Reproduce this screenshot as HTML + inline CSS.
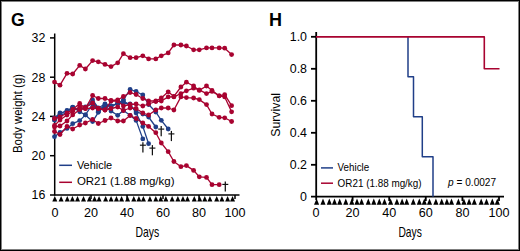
<!DOCTYPE html>
<html><head><meta charset="utf-8"><style>
html,body{margin:0;padding:0;background:#fff;}
#c{position:relative;width:520px;height:251px;overflow:hidden;background:#fff;}
#c svg{position:absolute;left:0;top:0;}
#b{position:absolute;left:0;top:0;width:518px;height:249px;border:1px solid #000;box-shadow:inset 0 0 0 1px rgba(0,0,0,0.5);}
</style></head><body><div id="c">
<svg width="520" height="251" viewBox="0 0 520 251">
<g stroke="#000" stroke-width="1.5" fill="none">
<line x1="54.7" y1="33.5" x2="54.7" y2="195.5"/>
<line x1="50" y1="194.9" x2="239.5" y2="194.9"/>
<line x1="50" y1="37.9" x2="54.7" y2="37.9"/>
<line x1="50" y1="77.2" x2="54.7" y2="77.2"/>
<line x1="50" y1="116.4" x2="54.7" y2="116.4"/>
<line x1="50" y1="155.7" x2="54.7" y2="155.7"/>
<line x1="91.0" y1="194.9" x2="91.0" y2="199"/>
<line x1="127.0" y1="194.9" x2="127.0" y2="199"/>
<line x1="163.0" y1="194.9" x2="163.0" y2="199"/>
<line x1="199.0" y1="194.9" x2="199.0" y2="199"/>
<line x1="235.0" y1="194.9" x2="235.0" y2="199"/>
</g>
<text x="45.3" y="42.3" font-family="Liberation Sans, sans-serif" font-size="12.4" text-anchor="end">32</text>
<text x="45.3" y="81.6" font-family="Liberation Sans, sans-serif" font-size="12.4" text-anchor="end">28</text>
<text x="45.3" y="120.8" font-family="Liberation Sans, sans-serif" font-size="12.4" text-anchor="end">24</text>
<text x="45.3" y="160.1" font-family="Liberation Sans, sans-serif" font-size="12.4" text-anchor="end">20</text>
<text x="45.3" y="199.3" font-family="Liberation Sans, sans-serif" font-size="12.4" text-anchor="end">16</text>
<text x="55.0" y="216.9" font-family="Liberation Sans, sans-serif" font-size="12.6" text-anchor="middle">0</text>
<text x="91.0" y="216.9" font-family="Liberation Sans, sans-serif" font-size="12.6" text-anchor="middle">20</text>
<text x="127.0" y="216.9" font-family="Liberation Sans, sans-serif" font-size="12.6" text-anchor="middle">40</text>
<text x="163.0" y="216.9" font-family="Liberation Sans, sans-serif" font-size="12.6" text-anchor="middle">60</text>
<text x="199.0" y="216.9" font-family="Liberation Sans, sans-serif" font-size="12.6" text-anchor="middle">80</text>
<text x="235.0" y="216.9" font-family="Liberation Sans, sans-serif" font-size="12.6" text-anchor="middle">100</text>
<g fill="#000"><path d="M52.30,201.40L54.80,196.10L57.30,201.40Z"/><path d="M58.59,201.40L61.09,196.10L63.59,201.40Z"/><path d="M64.79,201.40L67.29,196.10L69.79,201.40Z"/><path d="M69.90,201.40L72.40,196.10L74.90,201.40Z"/><path d="M75.02,201.40L77.52,196.10L80.02,201.40Z"/><path d="M81.02,201.40L83.52,196.10L86.02,201.40Z"/><path d="M86.92,201.40L89.42,196.10L91.92,201.40Z"/><path d="M92.03,201.40L94.53,196.10L97.03,201.40Z"/><path d="M96.56,201.40L99.06,196.10L101.56,201.40Z"/><path d="M103.15,201.40L105.65,196.10L108.15,201.40Z"/><path d="M108.56,201.40L111.06,196.10L113.56,201.40Z"/><path d="M113.97,201.40L116.47,196.10L118.97,201.40Z"/><path d="M119.08,201.40L121.58,196.10L124.08,201.40Z"/><path d="M125.08,201.40L127.58,196.10L130.08,201.40Z"/><path d="M131.28,201.40L133.78,196.10L136.28,201.40Z"/><path d="M136.40,201.40L138.90,196.10L141.40,201.40Z"/><path d="M140.92,201.40L143.42,196.10L145.92,201.40Z"/><path d="M147.41,201.40L149.91,196.10L152.41,201.40Z"/><path d="M153.31,201.40L155.81,196.10L158.31,201.40Z"/><path d="M158.23,201.40L160.73,196.10L163.23,201.40Z"/><path d="M163.35,201.40L165.85,196.10L168.35,201.40Z"/><path d="M169.64,201.40L172.14,196.10L174.64,201.40Z"/><path d="M175.35,201.40L177.85,196.10L180.35,201.40Z"/><path d="M180.46,201.40L182.96,196.10L185.46,201.40Z"/><path d="M184.99,201.40L187.49,196.10L189.99,201.40Z"/><path d="M191.77,201.40L194.27,196.10L196.77,201.40Z"/><path d="M197.18,201.40L199.68,196.10L202.18,201.40Z"/><path d="M202.30,201.40L204.80,196.10L207.30,201.40Z"/><path d="M207.41,201.40L209.91,196.10L212.41,201.40Z"/><path d="M214.20,201.40L216.70,196.10L219.20,201.40Z"/><path d="M219.41,201.40L221.91,196.10L224.41,201.40Z"/><path d="M225.12,201.40L227.62,196.10L230.12,201.40Z"/><path d="M230.03,201.40L232.53,196.10L235.03,201.40Z"/></g>

<text x="135.5" y="236.8" font-family="Liberation Sans, sans-serif" font-size="15" textLength="23.7" lengthAdjust="spacingAndGlyphs">Days</text>
<text transform="translate(22,153) rotate(-90)" x="0" y="0" font-family="Liberation Sans, sans-serif" font-size="12.2" textLength="79" lengthAdjust="spacingAndGlyphs">Body weight (g)</text>
<polyline points="54.5,136.7 60.0,132.5 67.0,128.4 72.7,123.7 79.7,120.6 85.4,114.9 92.6,104.0 98.3,111.5 105.0,106.0 111.0,106.0 117.7,103.4 123.4,103.0 130.1,104.0 136.1,113.0 142.8,126.4 148.6,143.7" fill="none" stroke="#203f88" stroke-width="1.3" stroke-linejoin="round"/>
<circle cx="54.5" cy="136.7" r="2.4" fill="#203f88"/><circle cx="60.0" cy="132.5" r="2.4" fill="#203f88"/><circle cx="67.0" cy="128.4" r="2.4" fill="#203f88"/><circle cx="72.7" cy="123.7" r="2.4" fill="#203f88"/><circle cx="79.7" cy="120.6" r="2.4" fill="#203f88"/><circle cx="85.4" cy="114.9" r="2.4" fill="#203f88"/><circle cx="92.6" cy="104.0" r="2.4" fill="#203f88"/><circle cx="98.3" cy="111.5" r="2.4" fill="#203f88"/><circle cx="105.0" cy="106.0" r="2.4" fill="#203f88"/><circle cx="111.0" cy="106.0" r="2.4" fill="#203f88"/><circle cx="117.7" cy="103.4" r="2.4" fill="#203f88"/><circle cx="123.4" cy="103.0" r="2.4" fill="#203f88"/><circle cx="130.1" cy="104.0" r="2.4" fill="#203f88"/><circle cx="136.1" cy="113.0" r="2.4" fill="#203f88"/><circle cx="142.8" cy="126.4" r="2.4" fill="#203f88"/><circle cx="148.6" cy="143.7" r="2.4" fill="#203f88"/>

<polyline points="54.5,120.0 60.0,116.0 67.0,112.0 72.7,107.1 79.7,111.8 85.4,114.9 92.6,121.6 98.3,112.3 105.0,105.7 111.0,111.1 117.7,115.3 123.4,110.5 130.1,115.3 136.1,120.4 142.8,138.9" fill="none" stroke="#203f88" stroke-width="1.3" stroke-linejoin="round"/>
<circle cx="54.5" cy="120.0" r="2.4" fill="#203f88"/><circle cx="60.0" cy="116.0" r="2.4" fill="#203f88"/><circle cx="67.0" cy="112.0" r="2.4" fill="#203f88"/><circle cx="72.7" cy="107.1" r="2.4" fill="#203f88"/><circle cx="79.7" cy="111.8" r="2.4" fill="#203f88"/><circle cx="85.4" cy="114.9" r="2.4" fill="#203f88"/><circle cx="92.6" cy="121.6" r="2.4" fill="#203f88"/><circle cx="98.3" cy="112.3" r="2.4" fill="#203f88"/><circle cx="105.0" cy="105.7" r="2.4" fill="#203f88"/><circle cx="111.0" cy="111.1" r="2.4" fill="#203f88"/><circle cx="117.7" cy="115.3" r="2.4" fill="#203f88"/><circle cx="123.4" cy="110.5" r="2.4" fill="#203f88"/><circle cx="130.1" cy="115.3" r="2.4" fill="#203f88"/><circle cx="136.1" cy="120.4" r="2.4" fill="#203f88"/><circle cx="142.8" cy="138.9" r="2.4" fill="#203f88"/>

<polyline points="54.5,118.0 60.0,113.0 67.0,111.0 72.7,108.0 79.7,110.0 85.4,107.5 92.6,103.0 98.3,111.0 105.0,104.5 111.0,106.5 117.7,103.4 123.4,101.0 130.1,105.0 136.1,111.7 142.8,114.1 148.6,117.0 155.8,127.0" fill="none" stroke="#203f88" stroke-width="1.3" stroke-linejoin="round"/>
<circle cx="54.5" cy="118.0" r="2.4" fill="#203f88"/><circle cx="60.0" cy="113.0" r="2.4" fill="#203f88"/><circle cx="67.0" cy="111.0" r="2.4" fill="#203f88"/><circle cx="72.7" cy="108.0" r="2.4" fill="#203f88"/><circle cx="79.7" cy="110.0" r="2.4" fill="#203f88"/><circle cx="85.4" cy="107.5" r="2.4" fill="#203f88"/><circle cx="92.6" cy="103.0" r="2.4" fill="#203f88"/><circle cx="98.3" cy="111.0" r="2.4" fill="#203f88"/><circle cx="105.0" cy="104.5" r="2.4" fill="#203f88"/><circle cx="111.0" cy="106.5" r="2.4" fill="#203f88"/><circle cx="117.7" cy="103.4" r="2.4" fill="#203f88"/><circle cx="123.4" cy="101.0" r="2.4" fill="#203f88"/><circle cx="130.1" cy="105.0" r="2.4" fill="#203f88"/><circle cx="136.1" cy="111.7" r="2.4" fill="#203f88"/><circle cx="142.8" cy="114.1" r="2.4" fill="#203f88"/><circle cx="148.6" cy="117.0" r="2.4" fill="#203f88"/><circle cx="155.8" cy="127.0" r="2.4" fill="#203f88"/>

<polyline points="54.5,120.0 60.0,114.0 67.0,110.5 72.7,107.5 79.7,110.0 85.4,107.0 92.6,100.0 98.3,108.0 105.0,104.0 111.0,106.0 117.7,103.4 123.4,99.8 130.1,89.5 136.1,91.5 142.8,95.0 148.6,104.5 155.8,112.0 161.3,120.3 168.2,129.0" fill="none" stroke="#203f88" stroke-width="1.3" stroke-linejoin="round"/>
<circle cx="54.5" cy="120.0" r="2.4" fill="#203f88"/><circle cx="60.0" cy="114.0" r="2.4" fill="#203f88"/><circle cx="67.0" cy="110.5" r="2.4" fill="#203f88"/><circle cx="72.7" cy="107.5" r="2.4" fill="#203f88"/><circle cx="79.7" cy="110.0" r="2.4" fill="#203f88"/><circle cx="85.4" cy="107.0" r="2.4" fill="#203f88"/><circle cx="92.6" cy="100.0" r="2.4" fill="#203f88"/><circle cx="98.3" cy="108.0" r="2.4" fill="#203f88"/><circle cx="105.0" cy="104.0" r="2.4" fill="#203f88"/><circle cx="111.0" cy="106.0" r="2.4" fill="#203f88"/><circle cx="117.7" cy="103.4" r="2.4" fill="#203f88"/><circle cx="123.4" cy="99.8" r="2.4" fill="#203f88"/><circle cx="130.1" cy="89.5" r="2.4" fill="#203f88"/><circle cx="136.1" cy="91.5" r="2.4" fill="#203f88"/><circle cx="142.8" cy="95.0" r="2.4" fill="#203f88"/><circle cx="148.6" cy="104.5" r="2.4" fill="#203f88"/><circle cx="155.8" cy="112.0" r="2.4" fill="#203f88"/><circle cx="161.3" cy="120.3" r="2.4" fill="#203f88"/><circle cx="168.2" cy="129.0" r="2.4" fill="#203f88"/>

<polyline points="54.5,127.0 60.0,126.0 67.0,121.0 72.7,114.9 79.7,109.5 85.4,108.5 92.6,108.1 98.3,108.5 105.0,110.0 111.0,108.5 117.7,107.0 123.4,110.5 130.1,108.0 136.1,108.5 142.8,113.0 148.6,115.0 155.8,110.0 161.3,108.0 168.2,108.0 173.9,110.0 180.9,96.9 186.4,97.6 193.6,98.0 199.3,99.6 206.5,104.6 212.0,114.0 219.2,117.3 224.7,117.8 231.6,121.5" fill="none" stroke="#a80330" stroke-width="1.3" stroke-linejoin="round"/>
<circle cx="54.5" cy="127.0" r="2.4" fill="#a80330"/><circle cx="60.0" cy="126.0" r="2.4" fill="#a80330"/><circle cx="67.0" cy="121.0" r="2.4" fill="#a80330"/><circle cx="72.7" cy="114.9" r="2.4" fill="#a80330"/><circle cx="79.7" cy="109.5" r="2.4" fill="#a80330"/><circle cx="85.4" cy="108.5" r="2.4" fill="#a80330"/><circle cx="92.6" cy="108.1" r="2.4" fill="#a80330"/><circle cx="98.3" cy="108.5" r="2.4" fill="#a80330"/><circle cx="105.0" cy="110.0" r="2.4" fill="#a80330"/><circle cx="111.0" cy="108.5" r="2.4" fill="#a80330"/><circle cx="117.7" cy="107.0" r="2.4" fill="#a80330"/><circle cx="123.4" cy="110.5" r="2.4" fill="#a80330"/><circle cx="130.1" cy="108.0" r="2.4" fill="#a80330"/><circle cx="136.1" cy="108.5" r="2.4" fill="#a80330"/><circle cx="142.8" cy="113.0" r="2.4" fill="#a80330"/><circle cx="148.6" cy="115.0" r="2.4" fill="#a80330"/><circle cx="155.8" cy="110.0" r="2.4" fill="#a80330"/><circle cx="161.3" cy="108.0" r="2.4" fill="#a80330"/><circle cx="168.2" cy="108.0" r="2.4" fill="#a80330"/><circle cx="173.9" cy="110.0" r="2.4" fill="#a80330"/><circle cx="180.9" cy="96.9" r="2.4" fill="#a80330"/><circle cx="186.4" cy="97.6" r="2.4" fill="#a80330"/><circle cx="193.6" cy="98.0" r="2.4" fill="#a80330"/><circle cx="199.3" cy="99.6" r="2.4" fill="#a80330"/><circle cx="206.5" cy="104.6" r="2.4" fill="#a80330"/><circle cx="212.0" cy="114.0" r="2.4" fill="#a80330"/><circle cx="219.2" cy="117.3" r="2.4" fill="#a80330"/><circle cx="224.7" cy="117.8" r="2.4" fill="#a80330"/><circle cx="231.6" cy="121.5" r="2.4" fill="#a80330"/>

<polyline points="54.5,125.5 60.0,120.0 67.0,115.0 72.7,111.3 79.7,106.9 85.4,107.5 92.6,103.0 98.3,108.5 105.0,110.0 111.0,101.0 117.7,101.0 123.4,106.0 130.1,104.5 136.1,104.0 142.8,106.0 148.6,104.0 155.8,101.5 161.3,101.0 168.2,96.9 173.9,96.9 180.9,93.6 186.4,90.8 193.6,88.2 199.3,89.9 206.5,93.6 212.0,91.4 219.2,95.8 224.7,96.9 231.6,111.8" fill="none" stroke="#a80330" stroke-width="1.3" stroke-linejoin="round"/>
<circle cx="54.5" cy="125.5" r="2.4" fill="#a80330"/><circle cx="60.0" cy="120.0" r="2.4" fill="#a80330"/><circle cx="67.0" cy="115.0" r="2.4" fill="#a80330"/><circle cx="72.7" cy="111.3" r="2.4" fill="#a80330"/><circle cx="79.7" cy="106.9" r="2.4" fill="#a80330"/><circle cx="85.4" cy="107.5" r="2.4" fill="#a80330"/><circle cx="92.6" cy="103.0" r="2.4" fill="#a80330"/><circle cx="98.3" cy="108.5" r="2.4" fill="#a80330"/><circle cx="105.0" cy="110.0" r="2.4" fill="#a80330"/><circle cx="111.0" cy="101.0" r="2.4" fill="#a80330"/><circle cx="117.7" cy="101.0" r="2.4" fill="#a80330"/><circle cx="123.4" cy="106.0" r="2.4" fill="#a80330"/><circle cx="130.1" cy="104.5" r="2.4" fill="#a80330"/><circle cx="136.1" cy="104.0" r="2.4" fill="#a80330"/><circle cx="142.8" cy="106.0" r="2.4" fill="#a80330"/><circle cx="148.6" cy="104.0" r="2.4" fill="#a80330"/><circle cx="155.8" cy="101.5" r="2.4" fill="#a80330"/><circle cx="161.3" cy="101.0" r="2.4" fill="#a80330"/><circle cx="168.2" cy="96.9" r="2.4" fill="#a80330"/><circle cx="173.9" cy="96.9" r="2.4" fill="#a80330"/><circle cx="180.9" cy="93.6" r="2.4" fill="#a80330"/><circle cx="186.4" cy="90.8" r="2.4" fill="#a80330"/><circle cx="193.6" cy="88.2" r="2.4" fill="#a80330"/><circle cx="199.3" cy="89.9" r="2.4" fill="#a80330"/><circle cx="206.5" cy="93.6" r="2.4" fill="#a80330"/><circle cx="212.0" cy="91.4" r="2.4" fill="#a80330"/><circle cx="219.2" cy="95.8" r="2.4" fill="#a80330"/><circle cx="224.7" cy="96.9" r="2.4" fill="#a80330"/><circle cx="231.6" cy="111.8" r="2.4" fill="#a80330"/>

<polyline points="54.5,118.5 60.0,117.0 67.0,113.0 72.7,109.5 79.7,103.5 85.4,108.5 92.6,95.5 98.3,98.5 105.0,98.5 111.0,100.5 117.7,100.0 123.4,96.5 130.1,92.5 136.1,94.5 142.8,98.5 148.6,101.0 155.8,101.0 161.3,98.0 168.2,91.8 173.9,96.4 180.9,87.0 186.4,82.2 193.6,86.0 199.3,90.4 206.5,86.0 212.0,90.4 219.2,95.8 224.7,94.7 231.6,105.7" fill="none" stroke="#a80330" stroke-width="1.3" stroke-linejoin="round"/>
<circle cx="54.5" cy="118.5" r="2.4" fill="#a80330"/><circle cx="60.0" cy="117.0" r="2.4" fill="#a80330"/><circle cx="67.0" cy="113.0" r="2.4" fill="#a80330"/><circle cx="72.7" cy="109.5" r="2.4" fill="#a80330"/><circle cx="79.7" cy="103.5" r="2.4" fill="#a80330"/><circle cx="85.4" cy="108.5" r="2.4" fill="#a80330"/><circle cx="92.6" cy="95.5" r="2.4" fill="#a80330"/><circle cx="98.3" cy="98.5" r="2.4" fill="#a80330"/><circle cx="105.0" cy="98.5" r="2.4" fill="#a80330"/><circle cx="111.0" cy="100.5" r="2.4" fill="#a80330"/><circle cx="117.7" cy="100.0" r="2.4" fill="#a80330"/><circle cx="123.4" cy="96.5" r="2.4" fill="#a80330"/><circle cx="130.1" cy="92.5" r="2.4" fill="#a80330"/><circle cx="136.1" cy="94.5" r="2.4" fill="#a80330"/><circle cx="142.8" cy="98.5" r="2.4" fill="#a80330"/><circle cx="148.6" cy="101.0" r="2.4" fill="#a80330"/><circle cx="155.8" cy="101.0" r="2.4" fill="#a80330"/><circle cx="161.3" cy="98.0" r="2.4" fill="#a80330"/><circle cx="168.2" cy="91.8" r="2.4" fill="#a80330"/><circle cx="173.9" cy="96.4" r="2.4" fill="#a80330"/><circle cx="180.9" cy="87.0" r="2.4" fill="#a80330"/><circle cx="186.4" cy="82.2" r="2.4" fill="#a80330"/><circle cx="193.6" cy="86.0" r="2.4" fill="#a80330"/><circle cx="199.3" cy="90.4" r="2.4" fill="#a80330"/><circle cx="206.5" cy="86.0" r="2.4" fill="#a80330"/><circle cx="212.0" cy="90.4" r="2.4" fill="#a80330"/><circle cx="219.2" cy="95.8" r="2.4" fill="#a80330"/><circle cx="224.7" cy="94.7" r="2.4" fill="#a80330"/><circle cx="231.6" cy="105.7" r="2.4" fill="#a80330"/>

<polyline points="54.5,131.5 60.0,134.5 67.0,126.5 72.7,129.0 79.7,125.0 85.4,123.0 92.6,119.5 98.3,123.5 105.0,120.5 111.0,118.0 117.7,121.0 123.4,121.0 130.1,115.5 136.1,118.5 142.8,123.0 148.6,126.4 155.8,132.7 161.3,143.0 168.2,151.7 173.9,161.5 180.9,166.7 186.4,165.6 193.6,170.4 199.3,176.8 206.5,177.4 212.0,184.7 219.2,184.7" fill="none" stroke="#a80330" stroke-width="1.3" stroke-linejoin="round"/>
<circle cx="54.5" cy="131.5" r="2.4" fill="#a80330"/><circle cx="60.0" cy="134.5" r="2.4" fill="#a80330"/><circle cx="67.0" cy="126.5" r="2.4" fill="#a80330"/><circle cx="72.7" cy="129.0" r="2.4" fill="#a80330"/><circle cx="79.7" cy="125.0" r="2.4" fill="#a80330"/><circle cx="85.4" cy="123.0" r="2.4" fill="#a80330"/><circle cx="92.6" cy="119.5" r="2.4" fill="#a80330"/><circle cx="98.3" cy="123.5" r="2.4" fill="#a80330"/><circle cx="105.0" cy="120.5" r="2.4" fill="#a80330"/><circle cx="111.0" cy="118.0" r="2.4" fill="#a80330"/><circle cx="117.7" cy="121.0" r="2.4" fill="#a80330"/><circle cx="123.4" cy="121.0" r="2.4" fill="#a80330"/><circle cx="130.1" cy="115.5" r="2.4" fill="#a80330"/><circle cx="136.1" cy="118.5" r="2.4" fill="#a80330"/><circle cx="142.8" cy="123.0" r="2.4" fill="#a80330"/><circle cx="148.6" cy="126.4" r="2.4" fill="#a80330"/><circle cx="155.8" cy="132.7" r="2.4" fill="#a80330"/><circle cx="161.3" cy="143.0" r="2.4" fill="#a80330"/><circle cx="168.2" cy="151.7" r="2.4" fill="#a80330"/><circle cx="173.9" cy="161.5" r="2.4" fill="#a80330"/><circle cx="180.9" cy="166.7" r="2.4" fill="#a80330"/><circle cx="186.4" cy="165.6" r="2.4" fill="#a80330"/><circle cx="193.6" cy="170.4" r="2.4" fill="#a80330"/><circle cx="199.3" cy="176.8" r="2.4" fill="#a80330"/><circle cx="206.5" cy="177.4" r="2.4" fill="#a80330"/><circle cx="212.0" cy="184.7" r="2.4" fill="#a80330"/><circle cx="219.2" cy="184.7" r="2.4" fill="#a80330"/>

<polyline points="54.5,82.1 60.0,85.2 67.0,73.3 72.7,74.0 79.7,65.4 85.4,69.0 92.6,60.6 98.3,61.8 105.0,64.4 111.0,66.6 117.7,62.8 123.4,53.7 130.1,57.7 136.1,57.7 142.8,55.8 148.6,58.9 155.8,58.9 161.3,55.8 168.2,52.9 173.9,45.0 180.9,45.0 186.4,46.0 193.6,49.8 199.3,49.8 206.5,47.9 212.0,47.9 219.2,47.9 224.7,48.2 231.6,54.6" fill="none" stroke="#a80330" stroke-width="1.3" stroke-linejoin="round"/>
<circle cx="54.5" cy="82.1" r="2.4" fill="#a80330"/><circle cx="60.0" cy="85.2" r="2.4" fill="#a80330"/><circle cx="67.0" cy="73.3" r="2.4" fill="#a80330"/><circle cx="72.7" cy="74.0" r="2.4" fill="#a80330"/><circle cx="79.7" cy="65.4" r="2.4" fill="#a80330"/><circle cx="85.4" cy="69.0" r="2.4" fill="#a80330"/><circle cx="92.6" cy="60.6" r="2.4" fill="#a80330"/><circle cx="98.3" cy="61.8" r="2.4" fill="#a80330"/><circle cx="105.0" cy="64.4" r="2.4" fill="#a80330"/><circle cx="111.0" cy="66.6" r="2.4" fill="#a80330"/><circle cx="117.7" cy="62.8" r="2.4" fill="#a80330"/><circle cx="123.4" cy="53.7" r="2.4" fill="#a80330"/><circle cx="130.1" cy="57.7" r="2.4" fill="#a80330"/><circle cx="136.1" cy="57.7" r="2.4" fill="#a80330"/><circle cx="142.8" cy="55.8" r="2.4" fill="#a80330"/><circle cx="148.6" cy="58.9" r="2.4" fill="#a80330"/><circle cx="155.8" cy="58.9" r="2.4" fill="#a80330"/><circle cx="161.3" cy="55.8" r="2.4" fill="#a80330"/><circle cx="168.2" cy="52.9" r="2.4" fill="#a80330"/><circle cx="173.9" cy="45.0" r="2.4" fill="#a80330"/><circle cx="180.9" cy="45.0" r="2.4" fill="#a80330"/><circle cx="186.4" cy="46.0" r="2.4" fill="#a80330"/><circle cx="193.6" cy="49.8" r="2.4" fill="#a80330"/><circle cx="199.3" cy="49.8" r="2.4" fill="#a80330"/><circle cx="206.5" cy="47.9" r="2.4" fill="#a80330"/><circle cx="212.0" cy="47.9" r="2.4" fill="#a80330"/><circle cx="219.2" cy="47.9" r="2.4" fill="#a80330"/><circle cx="224.7" cy="48.2" r="2.4" fill="#a80330"/><circle cx="231.6" cy="54.6" r="2.4" fill="#a80330"/>

<line x1="142.9" y1="142.2" x2="142.9" y2="152.4" stroke="#111" stroke-width="1.25"/><line x1="139.9" y1="145.2" x2="145.9" y2="145.2" stroke="#111" stroke-width="1.15"/>

<line x1="152.4" y1="145.1" x2="152.4" y2="155.3" stroke="#111" stroke-width="1.25"/><line x1="149.4" y1="148.1" x2="155.4" y2="148.1" stroke="#111" stroke-width="1.15"/>

<line x1="161.2" y1="126.1" x2="161.2" y2="136.3" stroke="#111" stroke-width="1.25"/><line x1="158.2" y1="129.1" x2="164.2" y2="129.1" stroke="#111" stroke-width="1.15"/>

<line x1="171.4" y1="130.9" x2="171.4" y2="141.1" stroke="#111" stroke-width="1.25"/><line x1="168.4" y1="133.9" x2="174.4" y2="133.9" stroke="#111" stroke-width="1.15"/>

<line x1="225.3" y1="181.4" x2="225.3" y2="191.6" stroke="#111" stroke-width="1.25"/><line x1="222.3" y1="184.4" x2="228.3" y2="184.4" stroke="#111" stroke-width="1.15"/>

<line x1="59.2" y1="165.3" x2="72" y2="165.3" stroke="#203f88" stroke-width="1.5"/>
<line x1="59.2" y1="182.3" x2="72" y2="182.3" stroke="#a80330" stroke-width="1.5"/>
<text x="76.9" y="169.0" font-family="Liberation Sans, sans-serif" font-size="11.6" textLength="35.3" lengthAdjust="spacingAndGlyphs">Vehicle</text>
<text x="76.9" y="185.3" font-family="Liberation Sans, sans-serif" font-size="11.6" textLength="97.6" lengthAdjust="spacingAndGlyphs">OR21 (1.88 mg/kg)</text>
<g stroke="#000" stroke-width="1.8" fill="none">
<line x1="316.2" y1="32" x2="316.2" y2="200"/>
<line x1="311" y1="196.7" x2="504" y2="196.7"/>
<line x1="311" y1="36.8" x2="316" y2="36.8"/>
<line x1="311" y1="68.8" x2="316" y2="68.8"/>
<line x1="311" y1="100.8" x2="316" y2="100.8"/>
<line x1="311" y1="132.8" x2="316" y2="132.8"/>
<line x1="311" y1="164.8" x2="316" y2="164.8"/>
<line x1="352.6" y1="196.7" x2="352.6" y2="201"/>
<line x1="389.2" y1="196.7" x2="389.2" y2="201"/>
<line x1="425.8" y1="196.7" x2="425.8" y2="201"/>
<line x1="462.4" y1="196.7" x2="462.4" y2="201"/>
<line x1="499.0" y1="196.7" x2="499.0" y2="201"/>
</g>
<text x="307" y="40.8" font-family="Liberation Sans, sans-serif" font-size="12.4" text-anchor="end">1.0</text>
<text x="307" y="72.8" font-family="Liberation Sans, sans-serif" font-size="12.4" text-anchor="end">0.8</text>
<text x="307" y="104.8" font-family="Liberation Sans, sans-serif" font-size="12.4" text-anchor="end">0.6</text>
<text x="307" y="136.8" font-family="Liberation Sans, sans-serif" font-size="12.4" text-anchor="end">0.4</text>
<text x="307" y="168.8" font-family="Liberation Sans, sans-serif" font-size="12.4" text-anchor="end">0.2</text>
<text x="307" y="200.8" font-family="Liberation Sans, sans-serif" font-size="12.4" text-anchor="end">0</text>
<text x="316.0" y="216.9" font-family="Liberation Sans, sans-serif" font-size="12.6" text-anchor="middle">0</text>
<text x="352.6" y="216.9" font-family="Liberation Sans, sans-serif" font-size="12.6" text-anchor="middle">20</text>
<text x="389.2" y="216.9" font-family="Liberation Sans, sans-serif" font-size="12.6" text-anchor="middle">40</text>
<text x="425.8" y="216.9" font-family="Liberation Sans, sans-serif" font-size="12.6" text-anchor="middle">60</text>
<text x="462.4" y="216.9" font-family="Liberation Sans, sans-serif" font-size="12.6" text-anchor="middle">80</text>
<text x="499.0" y="216.9" font-family="Liberation Sans, sans-serif" font-size="12.6" text-anchor="middle">100</text>
<g fill="#000"><path d="M314.05,204.80L316.60,198.60L319.15,204.80Z"/><path d="M320.45,204.80L323.00,198.60L325.55,204.80Z"/><path d="M326.75,204.80L329.30,198.60L331.85,204.80Z"/><path d="M331.95,204.80L334.50,198.60L337.05,204.80Z"/><path d="M337.15,204.80L339.70,198.60L342.25,204.80Z"/><path d="M343.25,204.80L345.80,198.60L348.35,204.80Z"/><path d="M349.25,204.80L351.80,198.60L354.35,204.80Z"/><path d="M354.45,204.80L357.00,198.60L359.55,204.80Z"/><path d="M359.05,204.80L361.60,198.60L364.15,204.80Z"/><path d="M365.75,204.80L368.30,198.60L370.85,204.80Z"/><path d="M371.25,204.80L373.80,198.60L376.35,204.80Z"/><path d="M376.75,204.80L379.30,198.60L381.85,204.80Z"/><path d="M381.95,204.80L384.50,198.60L387.05,204.80Z"/><path d="M388.05,204.80L390.60,198.60L393.15,204.80Z"/><path d="M394.35,204.80L396.90,198.60L399.45,204.80Z"/><path d="M399.55,204.80L402.10,198.60L404.65,204.80Z"/><path d="M404.15,204.80L406.70,198.60L409.25,204.80Z"/><path d="M410.75,204.80L413.30,198.60L415.85,204.80Z"/><path d="M416.75,204.80L419.30,198.60L421.85,204.80Z"/><path d="M421.75,204.80L424.30,198.60L426.85,204.80Z"/><path d="M426.95,204.80L429.50,198.60L432.05,204.80Z"/><path d="M433.35,204.80L435.90,198.60L438.45,204.80Z"/><path d="M439.15,204.80L441.70,198.60L444.25,204.80Z"/><path d="M444.35,204.80L446.90,198.60L449.45,204.80Z"/><path d="M448.95,204.80L451.50,198.60L454.05,204.80Z"/><path d="M455.85,204.80L458.40,198.60L460.95,204.80Z"/><path d="M461.35,204.80L463.90,198.60L466.45,204.80Z"/><path d="M466.55,204.80L469.10,198.60L471.65,204.80Z"/><path d="M471.75,204.80L474.30,198.60L476.85,204.80Z"/><path d="M478.65,204.80L481.20,198.60L483.75,204.80Z"/><path d="M483.95,204.80L486.50,198.60L489.05,204.80Z"/><path d="M489.75,204.80L492.30,198.60L494.85,204.80Z"/><path d="M494.75,204.80L497.30,198.60L499.85,204.80Z"/></g>

<text x="398.4" y="236.8" font-family="Liberation Sans, sans-serif" font-size="15" textLength="23.4" lengthAdjust="spacingAndGlyphs">Days</text>
<text transform="translate(280.4,136.8) rotate(-90)" x="0" y="0" font-family="Liberation Sans, sans-serif" font-size="12.2" textLength="43.8" lengthAdjust="spacingAndGlyphs">Survival</text>
<polyline points="408,36.8 408,76.8 413.5,76.8 413.5,116.8 422.3,116.8 422.3,156.8 433,156.8 433,196.7" fill="none" stroke="#203f88" stroke-width="1.5" stroke-linejoin="round"/>
<polyline points="316,36.9 484.3,36.9 484.3,68.8 499.5,68.8" fill="none" stroke="#a80330" stroke-width="1.6" stroke-linejoin="round"/>
<line x1="321" y1="167.9" x2="333" y2="167.9" stroke="#203f88" stroke-width="1.5"/>
<line x1="321" y1="183.2" x2="333" y2="183.2" stroke="#a80330" stroke-width="1.5"/>
<text x="337.6" y="170.9" font-family="Liberation Sans, sans-serif" font-size="10.3" textLength="31.6" lengthAdjust="spacingAndGlyphs">Vehicle</text>
<text x="337.6" y="186.5" font-family="Liberation Sans, sans-serif" font-size="10.3" textLength="84" lengthAdjust="spacingAndGlyphs">OR21 (1.88 mg/kg)</text>
<text x="448.1" y="186.3" font-family="Liberation Sans, sans-serif" font-size="10.1"><tspan font-style="italic">p</tspan> = 0.0027</text>
<text x="11.1" y="25.9" font-family="Liberation Sans, sans-serif" font-size="17.6" font-weight="bold">G</text>
<text x="269" y="26.2" font-family="Liberation Sans, sans-serif" font-size="18" font-weight="bold">H</text>
</svg><div id="b"></div></div></body></html>
